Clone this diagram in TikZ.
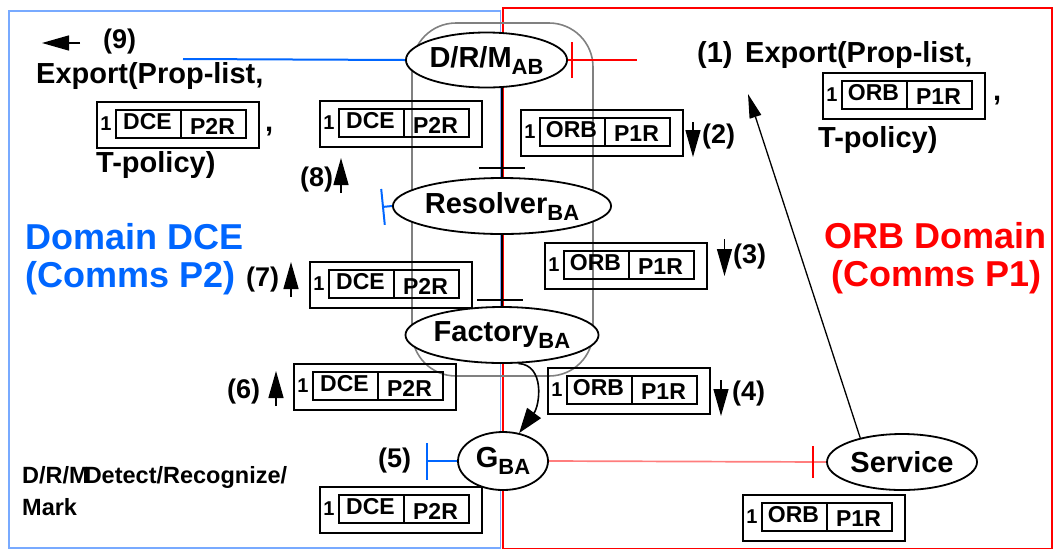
\documentclass[tikz,border=0pt]{standalone}
\usepackage{fontspec}
\setmainfont{Liberation Sans}
\usetikzlibrary{arrows.meta,shapes.geometric,calc}
\pgfdeclarelayer{bg}
\pgfsetlayers{bg,main}

\definecolor{dceblue}{RGB}{0,102,255}
\definecolor{framebl}{RGB}{120,170,255}
\definecolor{orbred}{RGB}{255,0,0}
\definecolor{lightred}{RGB}{255,125,125}
\definecolor{roundgray}{RGB}{128,128,128}

% bold text at a given size (in pt)
\newcommand\fsz[1]{\fontsize{#1}{#1}\selectfont\bfseries}
% lowered index used in the component names
\newcommand\lowsub[1]{\raisebox{-7pt}{\fsz{22}#1}}

\tikzset{
  txt/.style={inner sep=0pt, anchor=base west, font=\fsz{29}},
  lbl/.style={inner sep=0pt, anchor=base west, font=\fsz{27}},
  dom/.style={inner sep=0pt, anchor=base west, font=\fsz{36}},
  legend/.style={inner sep=0pt, anchor=base west, font=\fsz{23.5}},
  ell/.style={ellipse, draw, line width=1.8pt, fill=white, inner sep=0pt, font=\fsz{29}},
  blk/.style={line width=1.6pt, black},
  bluecon/.style={line width=2pt, dceblue},
  redcon/.style={line width=2pt, orbred},
  lredcon/.style={line width=1.7pt, lightred},
  flow/.style={line width=1.4pt, -{Triangle[length=27pt,width=15pt]}},
  pline/.style={line width=1.6pt},
  % transport reference: outer frame, "1", and a two-field inner box
  pics/packet/.style n args={2}{code={
    \node[draw, pline, minimum width=162pt, minimum height=46pt, anchor=north west, inner sep=0pt] (-box) at (0,0) {};
    \node[draw, pline, minimum width=130pt, minimum height=28pt, anchor=north west, inner sep=0pt] (-in) at (19,8) {};
    \draw[line width=2pt] (-in.north) -- (-in.south);
    \node[font=\fsz{20}, inner sep=0pt] (-one) at (10,23) {1};
    \node[font=\fsz{23}, inner sep=0pt] (-l) at (51.5,21) {#1};
    \node[font=\fsz{23}, inner sep=0pt] (-r) at (116.5,25) {#2};
  }}
}

\begin{document}
\begin{tikzpicture}[x=1pt,y=-1pt]
\useasboundingbox (0,0) rectangle (1056,550);

% ---- components -------------------------------------------------------
\node[ell, minimum width=137pt, minimum height=55pt] (dr)  at (486.5,60) {D/R/M\lowsub{AB}};
\node[ell, minimum width=178pt, minimum height=56pt] (res) at (502,206) {Resolver\lowsub{BA}};
\node[ell, minimum width=162pt, minimum height=56pt] (fac) at (502,335) {Factory\lowsub{BA}};
\node[ell, minimum width=90pt,  minimum height=58pt] (g)   at (503,461) {G\lowsub{BA}};
\node[ell, minimum width=150pt, minimum height=56pt] (ser) at (902,462) {Service};

% ---- export calls -----------------------------------------------------
\node[lbl] (n9) at (103,48) {(9)};
\node[txt] (exL) at (36,83) {Export(Prop-list,};
\pic (pk9) at (96,101) {packet={DCE}{P2R}};
\node[txt] (cmL) at (265,131) {,};
\node[txt] (tpL) at (96,172) {T-policy)};

\node[txt] (n1) at (697,62) {(1)};
\node[txt] (exR) at (745,62) {Export(Prop-list,};
\pic (pk1) at (822,72) {packet={ORB}{P1R}};
\node[txt] (cmR) at (993,100) {,};
\node[txt] (tpR) at (818,147) {T-policy)};

% ---- references passed along the chain ---------------------------------
\pic (pk8) at (319,100) {packet={DCE}{P2R}};
\pic (pk2) at (520,109) {packet={ORB}{P1R}};
\pic (pk7) at (309,261) {packet={DCE}{P2R}};
\pic (pk3) at (544,242) {packet={ORB}{P1R}};
\pic (pk6) at (293,363) {packet={DCE}{P2R}};
\pic (pk4) at (547,367) {packet={ORB}{P1R}};
\pic (pk5) at (319,486) {packet={DCE}{P2R}};
\pic (pkS) at (742,494) {packet={ORB}{P1R}};

% ---- step numbers -----------------------------------------------------
\node[lbl] (n2) at (702,143) {(2)};
\node[lbl] (n8) at (300,186) {(8)};
\node[lbl] (n7) at (246,286) {(7)};
\node[lbl] (n6) at (227,398) {(6)};
\node[lbl] (n5) at (378,467) {(5)};
\node[lbl] (n3) at (733,263) {(3)};
\node[lbl] (n4) at (732,400) {(4)};

\draw[flow] (80,43) -- (42,43);
\draw[flow] (693,122) -- (693,157);
\draw[flow] (341,193) -- (341,158);
\draw[flow] (291,297) -- (291,262);
\draw[flow] (276,406) -- (276,371);
\draw[flow] (724.5,239) -- (724.5,276);
\draw[flow] (721,380) -- (721,416);

% ---- domain names and legend ------------------------------------------
\node[dom, text=dceblue] (dceA) at (25,249) {Domain DCE};
\node[dom, text=dceblue] (dceB) at (25,287) {(Comms P2)};
\node[dom, text=orbred]  (orbA) at (824,248) {ORB Domain};
\node[dom, text=orbred]  (orbB) at (831,286) {(Comms P1)};

\node[legend] (leg1) at (22,483) {D/R/M\kern-4pt Detect/Recognize/};
\node[legend] (leg2) at (22,515) {Mark};

% ---- frames and connectors behind the components -----------------------
\begin{pgfonlayer}{bg}
  \draw[framebl, line width=1.6pt] (9,11) rectangle (500.5,548);
  \draw[orbred, line width=1.6pt] (503,8) rectangle (1052,548.5);
  \draw[roundgray, line width=1.6pt, rounded corners=44pt] (412,23) rectangle (593,376);

  \coordinate (blueend) at (183,59);
  \draw[bluecon] (blueend) -- (dr.west);
  \coordinate (redend) at (637,60);
  \draw[redcon] (dr.east) -- (redend);
  \draw[redcon] (572,42) -- (572,78);

  \draw[blk] (res.north) -- (res.north |- dr.center);
  \draw[blk] ($(res.north)+(-23,-9)$) -- ($(res.north)+(23,-9)$);
  \draw[blk] (res.south) -- (fac.north);
  \draw[blk] ($(fac.north)+(-25,-6)$) -- ($(fac.north)+(21,-6)$);

  \coordinate (resT) at (382,207);
  \draw[bluecon, {Bar[width=36pt]}-] (resT) -- (res.west);
  \coordinate (gT) at (426,461);
  \draw[bluecon, {Bar[width=37pt]}-] (gT) -- (g.west);

  \draw[lredcon] (g.east) -- (ser.west);
  \draw[redcon] ($(ser.west)+(-13,-16)$) -- ($(ser.west)+(-13,16)$);

  \draw[blk, -{Triangle[length=25pt,width=17pt]}] (fac.-60) .. controls (545,365) and (540,405) .. (g.60);

  \coordinate (exTip) at (748,94);
  \draw[blk, line width=1.3pt, -{Triangle[length=24pt,width=12pt]}] (ser.150) -- (exTip);
\end{pgfonlayer}
\end{tikzpicture}
\end{document}
